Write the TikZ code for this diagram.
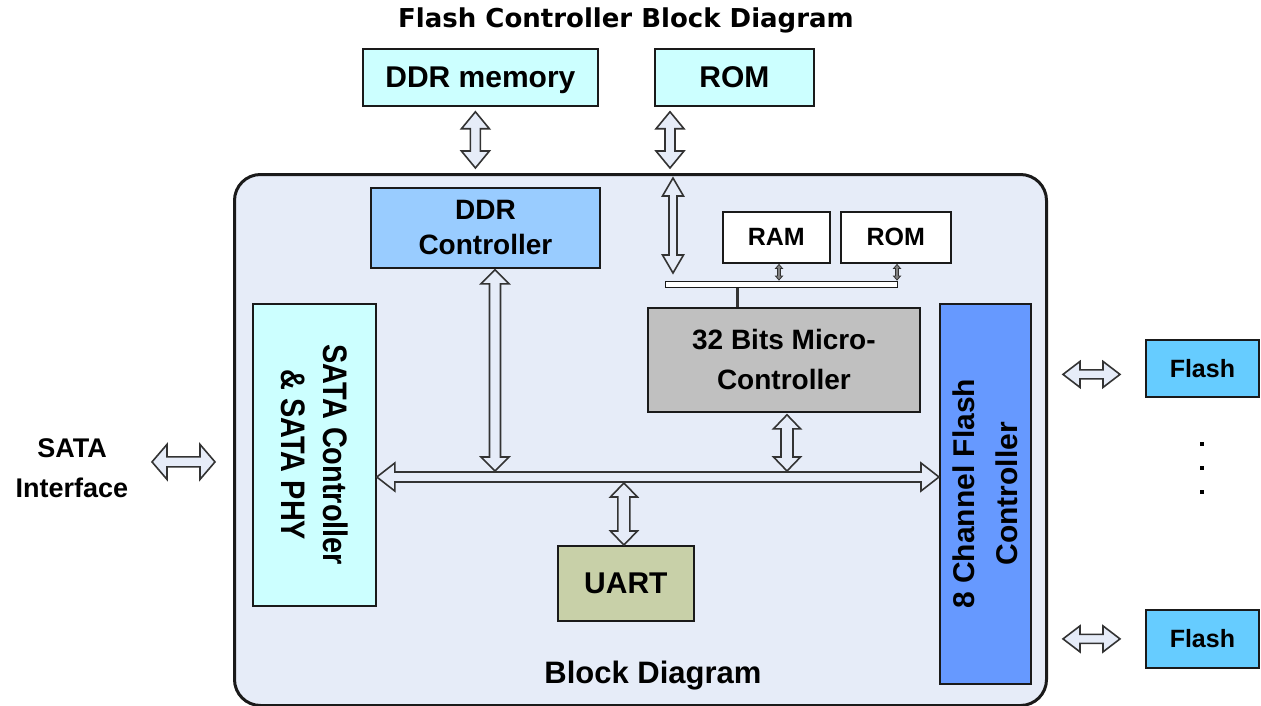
\documentclass[tikz,border=0pt]{standalone}
\usepackage{fontspec}
\setmainfont{Liberation Sans}
\newfontfamily\titlefont{DejaVu Sans}
\usetikzlibrary{calc}
\definecolor{bgmain}{HTML}{E6ECF8}
\definecolor{lcyan}{HTML}{CCFFFF}
\definecolor{ddrc}{HTML}{99CCFF}
\definecolor{microc}{HTML}{C0C0C0}
\definecolor{uartc}{HTML}{C8D0A8}
\definecolor{flashctl}{HTML}{6699FF}
\definecolor{flashc}{HTML}{66CCFF}
\definecolor{edge}{HTML}{1A1A1A}
\definecolor{arrowedge}{HTML}{333333}
\definecolor{arrowfill}{HTML}{E6ECF8}
% vertical double block arrow: top point, bottom point, shaft half, head half, head length
\newcommand\vdblarrow[6][]{\draw[blockarrow,#1] let \p1=#2, \p2=#3 in
  (\x1,\y1) -- (\x1+#5,\y1-#6) -- (\x1+#4,\y1-#6) -- (\x1+#4,\y2+#6) -- (\x1+#5,\y2+#6)
  -- (\x1,\y2) -- (\x1-#5,\y2+#6) -- (\x1-#4,\y2+#6) -- (\x1-#4,\y1-#6) -- (\x1-#5,\y1-#6) -- cycle;}
% horizontal double block arrow: left point, right point, shaft half, head half, head length
\newcommand\hdblarrow[6][]{\draw[blockarrow,#1] let \p1=#2, \p2=#3 in
  (\x1,\y1) -- (\x1+#6,\y1+#5) -- (\x1+#6,\y1+#4) -- (\x2-#6,\y1+#4) -- (\x2-#6,\y1+#5)
  -- (\x2,\y1) -- (\x2-#6,\y1-#5) -- (\x2-#6,\y1-#4) -- (\x1+#6,\y1-#4) -- (\x1+#6,\y1-#5) -- cycle;}
\begin{document}
\begin{tikzpicture}[x=1pt,y=-1pt,
  box/.style={draw=edge, line width=1.8pt, anchor=north west, inner sep=0pt, align=center},
  blockarrow/.style={draw=arrowedge, line width=1.6pt, fill=arrowfill, line join=miter},
  tinyarrow/.style={draw=arrowedge, line width=0.8pt, fill=gray},
  fA/.style={font=\fontsize{30pt}{36pt}\selectfont\bfseries},
  fB/.style={font=\fontsize{28pt}{35pt}\selectfont\bfseries},
  fC/.style={font=\fontsize{25pt}{30pt}\selectfont\bfseries},
  dot/.style={fill=black, inner sep=0pt, minimum width=4pt, minimum height=4pt}
]
\useasboundingbox[fill=white] (0,0) rectangle (1261,706);

\node[font=\titlefont\fontsize{26pt}{30pt}\selectfont\bfseries] (title) at (626,20) {Flash Controller Block Diagram};

\node[box, fill=lcyan, minimum width=235pt, minimum height=57pt, text depth=0pt, fA] (ddrmem) at (362,48) {DDR memory};
\node[box, fill=lcyan, minimum width=159pt, minimum height=57pt, fA] (romtop) at (654,48) {ROM};

\node[draw=edge, line width=3pt, rounded corners=26pt, fill=bgmain, anchor=north west,
      minimum width=812pt, minimum height=531pt, inner sep=0pt] (main) at (233,173) {};

\node[box, fill=ddrc, minimum width=229pt, minimum height=80pt, fB] (ddrctrl) at (370,187) {DDR\\Controller};
\node[box, fill=white, line width=1.5pt, minimum width=107pt, minimum height=51pt, fC] (ram) at (722,211) {RAM};
\node[box, fill=white, line width=1.5pt, minimum width=110pt, minimum height=51pt, fC] (rominner) at (840,211) {ROM};
\node[box, fill=white, line width=1.2pt, minimum width=232pt, minimum height=6pt] (sbus) at (665,281) {};
\node[box, fill=microc, minimum width=272pt, minimum height=104pt, font=\fontsize{28pt}{40pt}\selectfont\bfseries] (micro) at (647,307) {32 Bits Micro-\\Controller};

\node[box, fill=lcyan, minimum width=123pt, minimum height=302pt] (sata) at (252,303) {};
\node[rotate=-90, xscale=0.85, transform shape, align=center,
      font=\fontsize{34pt}{42pt}\selectfont\bfseries] (satatext) at (sata.center) {SATA Controller\\\& SATA PHY};

\node[box, fill=flashctl, minimum width=91pt, minimum height=380pt] (fctl) at (939,303) {};
\node[rotate=90, align=center, font=\fontsize{30pt}{43pt}\selectfont\bfseries] (fctltext) at (fctl.center) {8 Channel Flash\\Controller};

\node[box, fill=uartc, minimum width=136pt, minimum height=75pt, fA] (uart) at (557,545) {UART};
\node[font=\fontsize{31pt}{36pt}\selectfont\bfseries, anchor=base] (blockdiag) at (653,683) {Block Diagram};

\node[align=center, font=\fontsize{27pt}{40pt}\selectfont\bfseries] (sataif) at (72,468) {SATA\\Interface};

\node[box, fill=flashc, minimum width=113pt, minimum height=57pt, fC] (flash1) at (1145,339) {Flash};
\node[box, fill=flashc, minimum width=113pt, minimum height=58pt, fC] (flash2) at (1145,609) {Flash};
\node[dot] (dot1) at (1202,444) {};
\node[dot] (dot2) at (1202,468) {};
\node[dot] (dot3) at (1202,492) {};

% helper coordinates
\coordinate (busy) at (0,477);
\coordinate (romcol) at (670,0);
\coordinate (romcol2) at (673,0);
\coordinate (ddrcol) at (495,0);
\coordinate (mcol) at (787,0);
\coordinate (ramcol) at (779,0);
\coordinate (romicol) at (897,0);
\coordinate (mcbar) at (737,0);

% main bus
\hdblarrow{(sata.east |- busy)}{(fctl.west |- busy)}{5pt}{14pt}{18pt}
% external
\vdblarrow{($(ddrmem.south)+(-5,5)$)}{($(ddrmem.south |- main.north)+(-5,-5)$)}{5pt}{14pt}{17pt}
\vdblarrow{($(romcol |- romtop.south)+(0,5)$)}{($(romcol |- main.north)+(0,-5)$)}{5pt}{14pt}{17pt}
% internal
\vdblarrow{($(romcol2 |- main.north)+(0,5)$)}{($(romcol2 |- sbus.north)+(0,-8)$)}{4pt}{10.5pt}{18pt}
\vdblarrow{($(ddrcol |- ddrctrl.south)+(0,1)$)}{($(ddrcol |- busy)+(0,-6)$)}{5.5pt}{14pt}{14pt}
\vdblarrow{($(mcol |- micro.south)+(0,2)$)}{($(mcol |- busy)+(0,-6)$)}{6pt}{13.5pt}{14pt}
\vdblarrow{($(uart.north |- busy)+(-2,6)$)}{($(uart.north)+(-2,0)$)}{6pt}{13.5pt}{14pt}
\vdblarrow[tinyarrow]{($(ramcol |- ram.south)+(0,1)$)}{($(ramcol |- sbus.north)+(0,-1)$)}{1.5pt}{3.5pt}{4pt}
\vdblarrow[tinyarrow]{($(romicol |- rominner.south)+(0,1)$)}{($(romicol |- sbus.north)+(0,-1)$)}{1.5pt}{3.5pt}{4pt}
\draw[line width=3pt, draw=arrowedge] (mcbar |- sbus.south) -- (mcbar |- micro.north);
% SATA and flash
\hdblarrow{($(sata.west)+(-100,7)$)}{($(sata.west)+(-37,7)$)}{5pt}{17.5pt}{15pt}
\hdblarrow{($(flash1.west)+(-82,6)$)}{($(flash1.west)+(-25,6)$)}{4.5pt}{13pt}{17pt}
\hdblarrow{($(flash2.west)+(-82,0)$)}{($(flash2.west)+(-25,0)$)}{4.5pt}{13pt}{17pt}
\end{tikzpicture}
\end{document}
